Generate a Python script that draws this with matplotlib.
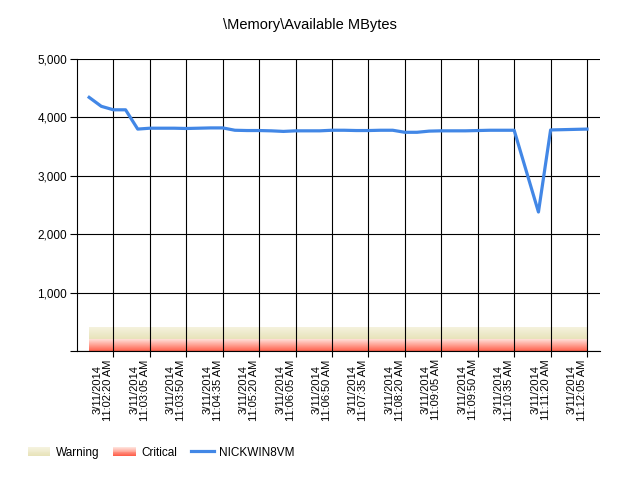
import matplotlib.pyplot as plt
import matplotlib.dates as mdates
from matplotlib.legend_handler import HandlerBase
from matplotlib.patches import Rectangle
from matplotlib.lines import Line2D
import numpy as np
import pandas as pd

plt.rcParams['font.family'] = ['Liberation Sans', 'DejaVu Sans']

# samples every 15 s
times = pd.date_range('2014-03-11 11:01:50', periods=42, freq='15s')
mbytes = [4343, 4190, 4130, 4130, 3800, 3815, 3815, 3815, 3810, 3815,
          3820, 3820, 3780, 3775, 3775, 3770, 3760, 3770, 3770, 3770,
          3780, 3780, 3775, 3775, 3780, 3780, 3745, 3745, 3765, 3770,
          3770, 3770, 3775, 3780, 3780, 3780, 3080, 2380, 3785, 3790,
          3795, 3800]
tick_times = pd.date_range('2014-03-11 11:02:20', '2014-03-11 11:12:05', freq='45s')
tick_labels = [t.strftime('%-m/%d/%Y') + '\n' + t.strftime('%I:%M:%S %p').lstrip('0')
               for t in tick_times]
y_ticks = [0, 1000, 2000, 3000, 4000, 5000]
y_labels = ['', '1,000', '2,000', '3,000', '4,000', '5,000']
warning_range = (200, 400)
critical_range = (0, 200)

x = mdates.date2num(times.to_pydatetime())
xt = mdates.date2num(tick_times.to_pydatetime())
xmin = mdates.date2num(pd.Timestamp('2014-03-11 11:01:35').to_pydatetime())
xmax = mdates.date2num(pd.Timestamp('2014-03-11 11:12:21').to_pydatetime())

warn_cols = [(0.96, 0.95, 0.87), (0.91, 0.89, 0.73)]
crit_cols = [(1.0, 0.88, 0.85), (1.0, 0.38, 0.30)]


def gradient(c_top, c_bot, n=64):
    t = np.linspace(0, 1, n)[:, None]
    return (np.array(c_top)[None, :] * (1 - t) + np.array(c_bot)[None, :] * t)[:, None, :]


fig = plt.figure(figsize=(6.2, 4.8), dpi=100)
ax = fig.add_axes([0.1242, 0.26875, 0.8435, 0.60833])

ax.imshow(gradient(*warn_cols), extent=[x[0], x[-1], warning_range[0], warning_range[1]],
          aspect='auto', zorder=0.2, interpolation='bilinear')
ax.imshow(gradient(*crit_cols), extent=[x[0], x[-1], critical_range[0], critical_range[1]],
          aspect='auto', zorder=0.2, interpolation='bilinear')

ax.plot(x, mbytes, color='#4287E6', lw=2.3, zorder=3, solid_joinstyle='round')

ax.set_xlim(xmin, xmax)
ax.set_ylim(0, 5000)
ax.set_xticks(xt)
ax.set_xticklabels(tick_labels, rotation=90, ha='right', va='top',
                   multialignment='center', fontsize=8, linespacing=1.05)
ax.set_yticks(y_ticks)
ax.set_yticklabels(y_labels, fontsize=8.5)
ax.tick_params(axis='x', length=4, width=0.8, pad=2, colors='black')
ax.tick_params(axis='y', length=5, width=0.8, pad=2, colors='black')
ax.grid(True, color='black', lw=0.8)
ax.set_axisbelow(True)
for s in ['top', 'right']:
    ax.spines[s].set_visible(False)
for s in ['left', 'bottom']:
    ax.spines[s].set_linewidth(0.8)

fig.text(0.5, 0.948, '\\Memory\\Available MBytes', ha='center', va='center', fontsize=10.5)


class GradientHandler(HandlerBase):
    def __init__(self, cols):
        super().__init__()
        self.cols = cols

    def create_artists(self, legend, orig_handle, xdescent, ydescent,
                       width, height, fontsize, trans):
        n = 10
        arts = []
        for i in range(n):
            t = i / (n - 1)
            c = tuple(self.cols[0][k] * (1 - t) + self.cols[1][k] * t for k in range(3))
            h = height / n
            y0 = -ydescent + height - (i + 1) * h
            arts.append(Rectangle((-xdescent, y0), width, h * 1.05, facecolor=c,
                                  edgecolor='none', transform=trans))
        return arts


h_warn = Rectangle((0, 0), 1, 1)
h_crit = Rectangle((0, 0), 1, 1)
h_line = Line2D([], [], color='#4287E6', lw=2.3)
fig.legend([h_warn, h_crit, h_line], ['Warning', 'Critical', 'NICKWIN8VM'],
           handler_map={h_warn: GradientHandler(warn_cols),
                        h_crit: GradientHandler(crit_cols)},
           loc='center left', bbox_to_anchor=(0.045, 0.057), ncol=3, frameon=False,
           fontsize=8.5, handlelength=1.9, handleheight=0.9, handletextpad=0.45,
           columnspacing=1.2, borderpad=0, borderaxespad=0)

fig.savefig('out.png', dpi=100)
